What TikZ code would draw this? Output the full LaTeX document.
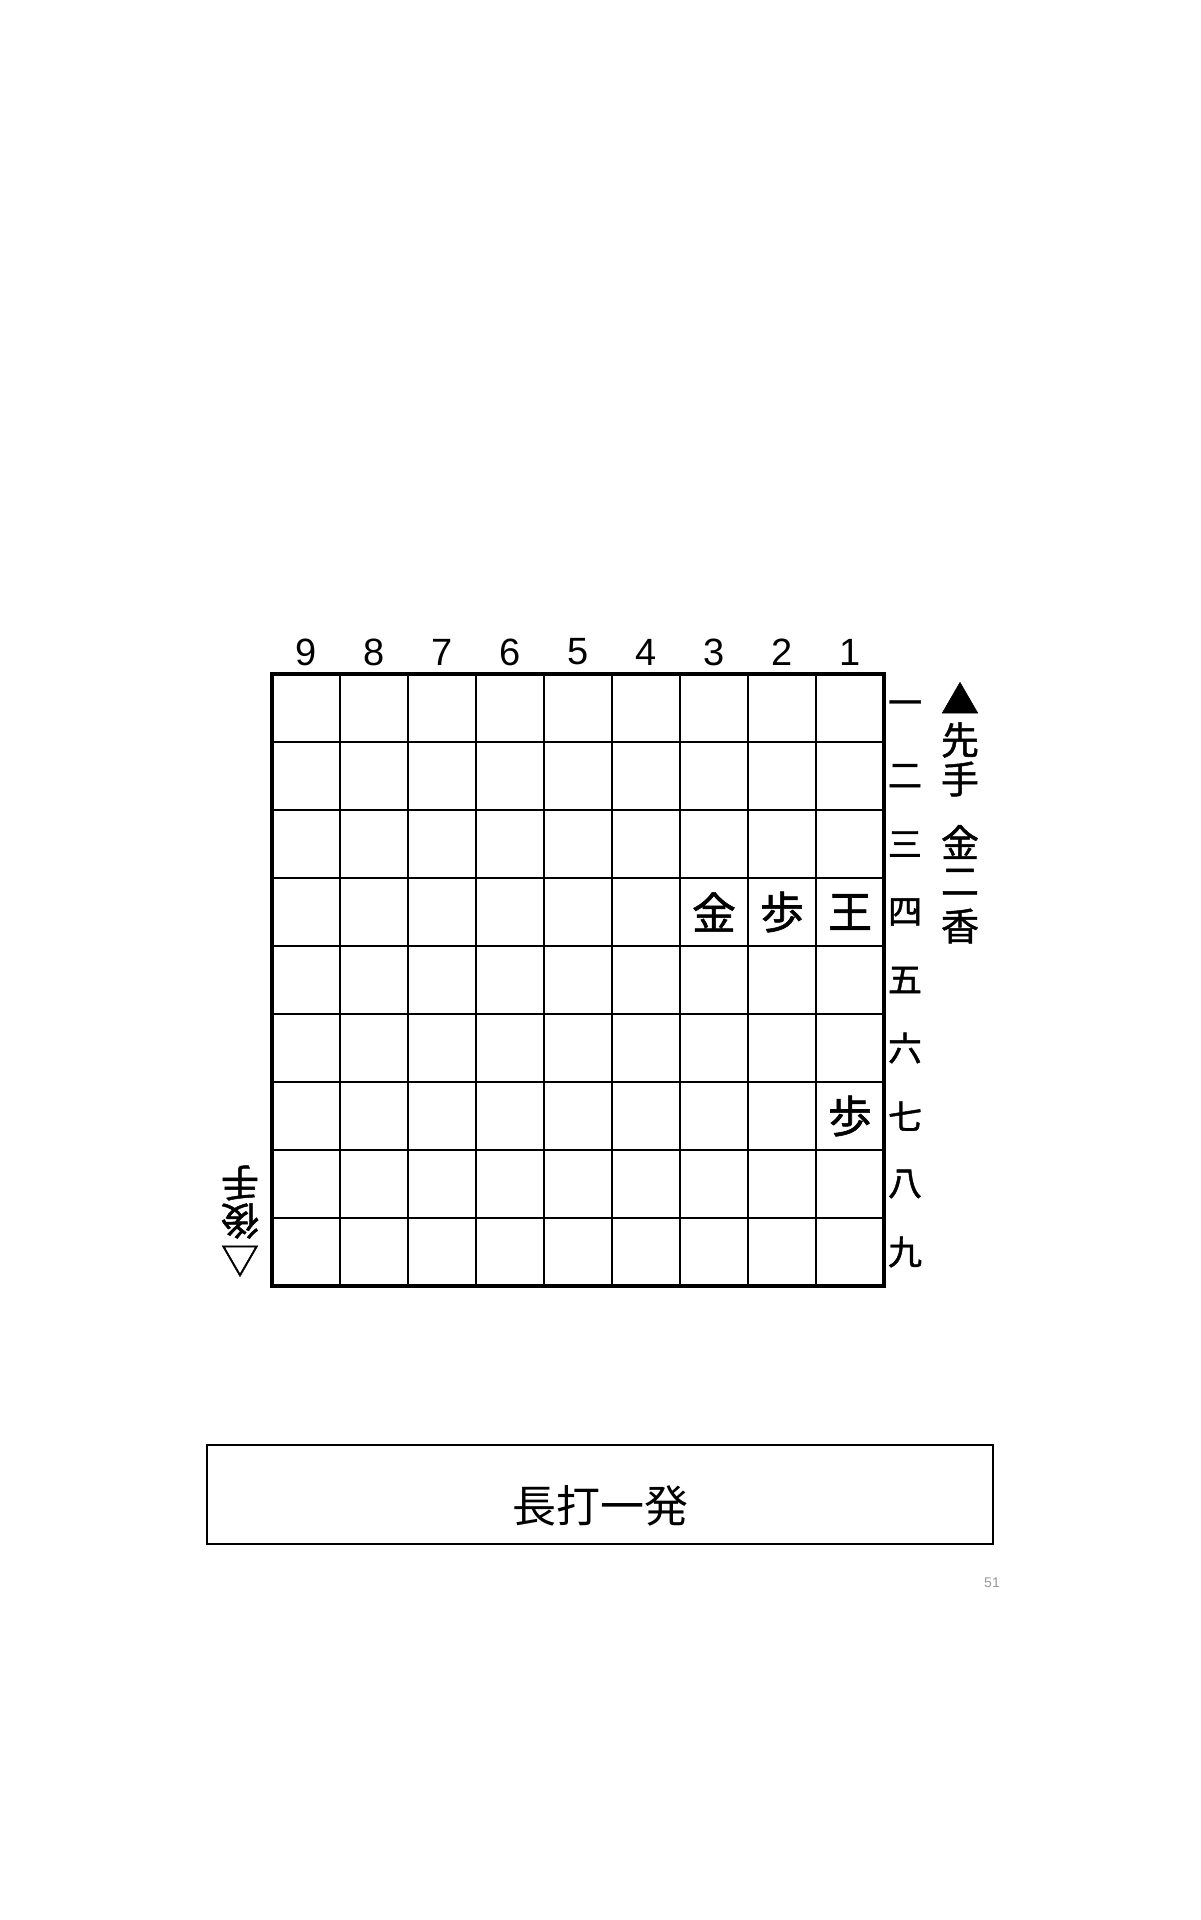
\documentclass[tikz,border=0pt]{standalone}
\usepackage{fontspec}
\setmainfont{Liberation Sans}
\newfontfamily\jp{Noto Sans CJK JP}
\newfontfamily\jpbold{Noto Sans CJK JP}[FakeBold=1.3]
\definecolor{pagegrey}{gray}{0.6}

\tikzset{
  cellline/.style={line width=0.6pt},
  boardedge/.style={line width=1.8pt},
  koma/.style={font=\jpbold\fontsize{22}{22}\selectfont, inner sep=0pt},
  suji/.style={font=\fontsize{19}{19}\selectfont, inner sep=0pt},
  dan/.style={font=\jpbold\fontsize{17}{17}\selectfont, inner sep=0pt},
  mochi/.style={font=\jpbold\fontsize{19}{19}\selectfont, inner sep=0pt},
}

\begin{document}
\begin{tikzpicture}[x=0.5pt,y=-0.5pt]
	\useasboundingbox[fill=white] (0,0) rectangle (1200,1920);
	% board
	\foreach \i in {1,...,8} {
		\draw[cellline] (272+\i*68,674) -- (272+\i*68,1286);
		\draw[cellline] (272,674+\i*68) -- (884,674+\i*68);
	}
	\draw[boardedge] (272,674) rectangle (884,1286);
	% suji and dan
	\foreach \n in {1,...,9}
		\node[suji] (suji\n) at (884-\n*68+34,652) {\n};
	\foreach \n/\k in {1/一,2/二,3/三,4/四,5/五,6/六,7/七,8/八,9/九}
		\node[dan] (dan\n) at (905,674+\n*68-34) {\k};
	% pieces
	\node[koma] (k34) at (714,912) {金};
	\node[koma] (k24) at (782,912) {歩};
	\node[koma] (k14) at (850,912) {王};
	\node[koma] (k17) at (850,1116) {歩};
	% sente
	\node[mochi] (smark) at (960,698) {▲};
	\node[mochi] (sen) at (960,740) {先};
	\node[mochi] (te) at (960,779) {手};
	\node[mochi] (mkin) at (960,842) {金};
	\node[mochi] (mnum) at (960,882) {二};
	\node[mochi] (mkyo) at (960,926) {香};
	% gote
	\node[mochi,rotate=180] (gmark) at (240,1261) {△};
	\node[mochi,rotate=180] (go) at (240,1221) {後};
	\node[mochi,rotate=180] (gte) at (240,1183) {手};
	% title
	\draw[line width=1pt] (207,1445) rectangle (993,1544);
	\node[font=\jp\fontsize{22}{22}\selectfont] (title) at (600,1506) {長打一発};
	\node[font=\fontsize{7}{7}\selectfont, text=pagegrey] (pageno) at (992,1583) {51};
\end{tikzpicture}
\end{document}
